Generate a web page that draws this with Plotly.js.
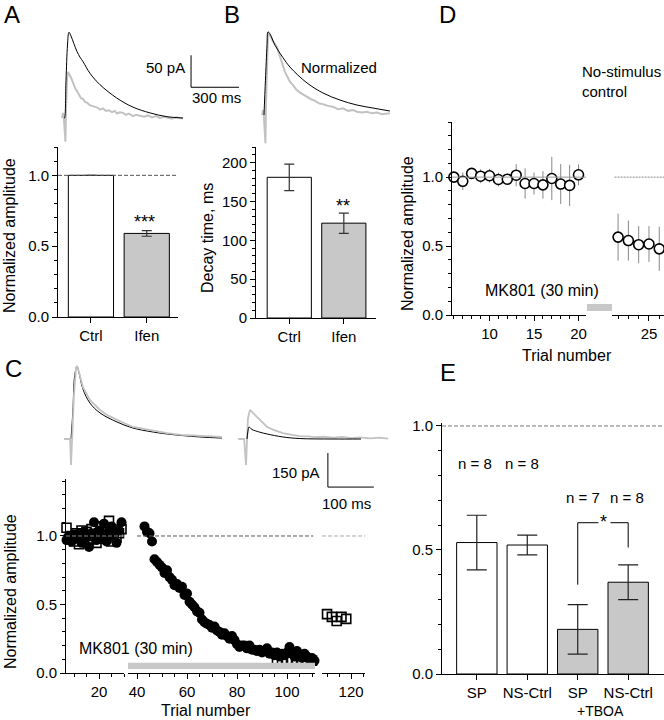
<!DOCTYPE html>
<html><head><meta charset="utf-8">
<script src="https://cdn.plot.ly/plotly-3.0.1.min.js"></script>
<style>html,body{margin:0;padding:0;background:#fff;} #plot{width:664px;height:720px;}</style>
</head><body><div id="plot"></div>
<script>
// ---------- Panel A / B : bar data ----------
const ampCats = ['Ctrl', 'Ifen'];
const ampVals = [1.0, 0.59];
const ampErr = [null, 0.02];
const decayVals = [181, 122];
const decayErr = [17, 13];
const barFill = ['#ffffff', '#c8c8c8'];

// ---------- Panel A traces (ms, pA) ----------
const tA_black = [0, 3, 12.5, 22, 31, 44, 62, 81, 100, 119, 162, 225, 331, 431, 537, 644, 744];
const iA_black = [0, 0, 59, 114, 134, 128, 116, 104, 95, 88, 70, 52, 31, 17, 8, 2, 0];
const tA_gray = [-12, -6, 0, 9, 12.5, 19, 25, 31, 37.5, 44, 56, 69, 81, 94, 106, 119, 131, 144, 162, 175,
  194, 212, 225, 244, 262, 281, 300, 318, 331, 350, 368, 387, 406, 431, 450, 475, 500, 525, 550, 575,
  600, 625, 650, 675, 700, 725, 744];
const iA_gray = [0, 8, -3, -37, 12, 62, 72, 70, 66, 63, 55, 47, 42, 37, 31, 30, 25, 24, 20, 19,
  17, 16, 13, 15, 11, 12, 9, 11, 7, 9, 8, 5, 7, 3, 5, 4, 2, 4, 1, 3,
  0, 2, 1, -1, 1, 0, -1];

// ---------- Panel B traces (ms, normalized) ----------
const tB_black = [0, 9, 19, 25, 37.5, 69, 119, 162, 269, 369, 475, 581, 681, 787];
const nB_black = [0, 0.42, 0.84, 1.0, 0.976, 0.84, 0.69, 0.578, 0.386, 0.265, 0.18, 0.12, 0.084, 0.048];
const tB_gray = [-12, -6, 0, 9, 12.5, 19, 25, 31, 37.5, 44, 56, 69, 81, 94, 106, 119, 131, 144, 162, 181,
  200, 225, 250, 269, 294, 319, 344, 369, 400, 431, 462, 494, 525, 556, 581, 612, 644, 675, 706, 737, 768, 787];
const nB_gray = [0, 0.06, -0.04, -0.34, 0.12, 0.84, 1.0, 0.98, 0.95, 0.93, 0.89, 0.86, 0.82, 0.74, 0.66, 0.58, 0.52, 0.47, 0.40, 0.36,
  0.31, 0.27, 0.24, 0.21, 0.19, 0.17, 0.14, 0.13, 0.11, 0.10, 0.07, 0.08, 0.05, 0.06, 0.04, 0.03, 0.04, 0.02, 0.03, 0.01, 0.02, 0.02];

// ---------- Panel C traces (ms, pA) ----------
const tC1_gray = [-15, -2, 0, 2.2, 6.5, 10.9, 13, 17.4, 26, 41, 63, 80, 100, 120, 135, 155, 172, 190, 209, 240, 280, 305, 328];
const iC1_gray = [0, 0, -115, -4, 194, 313, 322, 295, 229, 172, 128, 104, 84, 66, 53, 46, 40, 31, 26, 18, 13, 10, 9];
const tC1_black = [0, 4, 8, 13, 17.4, 26, 41, 63, 100, 135, 172, 209, 280, 328];
const iC1_black = [0, 120, 280, 322, 292, 220, 159, 115, 75, 48, 33, 22, 9, 4];
const tC2_gray = [-17, -4, 0, 2.2, 4.3, 8.7, 15, 22, 30, 39, 46, 60, 80, 100, 117, 135, 150, 170, 189, 210, 230, 248, 270, 290, 309];
const iC2_gray = [0, 0, -115, 0, 93, 128, 115, 100, 84, 66, 53, 40, 26, 18, 13, 12, 8, 10, 6, 9, 4, 7, 3, 6, 2];
const tC2_black = [2.2, 4.3, 6.5, 13, 30, 46, 80, 117, 189, 250];
const iC2_black = [0, 35, 53, 42, 30, 22, 9, 2, 0, 0];

// ---------- Panel C time course ----------
const cTrials1 = [7, 8, 9, 10, 11, 12, 13, 14, 15, 16, 17, 18, 19, 20, 21, 22, 23, 24, 25, 26, 27, 28, 29];
const cCirc1 = [0.97, 0.99, 0.96, 1.01, 0.98, 1.02, 0.95, 1.03, 0.99, 0.92, 1.02, 1.10, 0.97, 1.04, 0.99, 1.09, 0.96, 1.03, 1.07, 1.00, 0.95, 1.04, 1.10];
const cSq1 = [1.06, 0.98, 1.00, 0.96, 1.02, 0.94, 1.04, 0.99, 1.03, 0.97, 1.05, 1.00, 0.95, 1.02, 1.07, 0.98, 1.01, 1.11, 0.96, 1.03, 0.99, 1.02, 1.05];
const cTrials2 = [43, 44, 45, 46, 47, 48, 49, 50, 51, 52, 53, 54, 55, 56, 57, 58, 59, 60, 61, 62, 63, 64, 65, 66, 67, 68, 69, 70,
  71, 72, 73, 74, 75, 76, 77, 78, 79, 80, 81, 82, 83, 84, 85, 86, 87, 88, 89, 90, 91, 92, 93, 94, 95, 96, 97, 98, 99, 100,
  101, 102, 103, 104, 105, 106, 107, 108, 109, 110, 111];
const cCirc2 = [1.07, 1.03, 1.02, 0.96, 0.83, 0.81, 0.79, 0.77, 0.73, 0.75, 0.70, 0.68, 0.64, 0.65, 0.62, 0.63, 0.57, 0.58, 0.52, 0.50, 0.48, 0.45, 0.44, 0.39, 0.37, 0.36, 0.35, 0.33,
  0.34, 0.31, 0.30, 0.28, 0.29, 0.27, 0.25, 0.27, 0.24, 0.21, 0.19, 0.20, 0.20, 0.18, 0.20, 0.17, 0.17, 0.16, 0.17, 0.15, 0.16, 0.18, 0.14, 0.15, 0.13, 0.15, 0.12, 0.14, 0.13, 0.15,
  0.19, 0.14, 0.12, 0.16, 0.13, 0.11, 0.14, 0.12, 0.10, 0.11, 0.09];
const cSqTrials2 = [96, 98, 100, 102, 104, 106, 108, 110];
const cSq2 = [0.09, 0.08, 0.10, 0.09, 0.08, 0.09, 0.08, 0.09];
const cSqTrials3 = [110, 112, 114, 116, 118];
const cSq3 = [0.43, 0.41, 0.38, 0.41, 0.395];

// ---------- Panel D ----------
const dTrials1 = [6, 7, 8, 9, 10, 11, 12, 13, 14, 15, 16, 17, 18, 19, 20];
const dAmp1 = [1.00, 0.97, 1.027, 1.007, 1.01, 0.983, 0.985, 1.014, 0.954, 0.954, 0.944, 0.99, 0.95, 0.94, 1.017];
const dErr1 = [0.04, 0.064, 0.04, 0.05, 0.05, 0.05, 0.04, 0.08, 0.11, 0.08, 0.10, 0.157, 0.145, 0.15, 0.076];
const dTrials2 = [22, 23, 24, 25, 26];
const dAmp2 = [0.565, 0.54, 0.51, 0.515, 0.48];
const dErr2 = [0.17, 0.145, 0.135, 0.13, 0.16];

// ---------- Panel E ----------
const eCats = ['SP', 'NS-Ctrl', 'SP', 'NS-Ctrl'];
const eVals = [0.53, 0.52, 0.18, 0.37];
const eErr = [0.11, 0.04, 0.10, 0.07];
const eFill = ['#ffffff', '#ffffff', '#c8c8c8', '#c8c8c8'];
const eN = ['n = 8', 'n = 8', 'n = 7', 'n = 8'];

// ---------- helpers ----------
const F = 'Liberation Sans, Arial, Helvetica, sans-serif';
const W = 664, H = 720;
const X = px => px / W;
const Y = py => 1 - py / H;
const idx = a => a.map((_, i) => i);
function axisStyle(o) {
  return Object.assign({
    showline: true, linecolor: '#000', linewidth: 1,
    ticks: 'outside', ticklen: 5, tickwidth: 1, tickcolor: '#000',
    showgrid: false, zeroline: false, fixedrange: true,
    tickfont: {family: F, size: 15, color: '#000'}
  }, o);
}
const hidden = o => Object.assign({visible: false, fixedrange: true, showgrid: false, zeroline: false}, o);
const minor = d => ({dtick: d, ticks: 'outside', ticklen: 3, tickwidth: 1, tickcolor: '#000', showgrid: false});

const grayTrace = '#c2c2c2';
const traces = [
  // A bars
  {type: 'bar', x: idx(ampCats), y: ampVals, xaxis: 'x', yaxis: 'y', width: 0.81,
   marker: {color: barFill, line: {color: '#000', width: 1}},
   error_y: {type: 'data', array: ampErr, visible: true, color: '#333', thickness: 1.2, width: 5}},
  // B bars
  {type: 'bar', x: idx(ampCats), y: decayVals, xaxis: 'x2', yaxis: 'y2', width: 0.81,
   marker: {color: barFill, line: {color: '#000', width: 1}},
   error_y: {type: 'data', array: decayErr, visible: true, color: '#333', thickness: 1.2, width: 5}},
  // A traces
  {type: 'scatter', mode: 'lines', x: tA_gray, y: iA_gray, xaxis: 'x3', yaxis: 'y3', line: {color: grayTrace, width: 2}},
  {type: 'scatter', mode: 'lines', x: tA_black, y: iA_black, xaxis: 'x3', yaxis: 'y3', line: {color: '#000', width: 1, shape: 'spline'}},
  // B traces
  {type: 'scatter', mode: 'lines', x: tB_gray, y: nB_gray, xaxis: 'x4', yaxis: 'y4', line: {color: grayTrace, width: 2}},
  {type: 'scatter', mode: 'lines', x: tB_black, y: nB_black, xaxis: 'x4', yaxis: 'y4', line: {color: '#000', width: 1, shape: 'spline'}},
  // C traces
  {type: 'scatter', mode: 'lines', x: tC1_black, y: iC1_black, xaxis: 'x5', yaxis: 'y5', line: {color: '#000', width: 1, shape: 'spline'}},
  {type: 'scatter', mode: 'lines', x: tC1_gray, y: iC1_gray, xaxis: 'x5', yaxis: 'y5', line: {color: grayTrace, width: 1.8}},
  {type: 'scatter', mode: 'lines', x: tC2_gray, y: iC2_gray, xaxis: 'x6', yaxis: 'y5', line: {color: grayTrace, width: 1.8}},
  {type: 'scatter', mode: 'lines', x: tC2_black, y: iC2_black, xaxis: 'x6', yaxis: 'y5', line: {color: '#000', width: 1, shape: 'spline'}},
  // C time course
  {type: 'scatter', mode: 'markers', x: cTrials1, y: cCirc1, xaxis: 'x7', yaxis: 'y7', cliponaxis: false,
   marker: {symbol: 'circle', size: 10, color: '#000'}},
  {type: 'scatter', mode: 'markers', x: cTrials1, y: cSq1, xaxis: 'x7', yaxis: 'y7', cliponaxis: false,
   marker: {symbol: 'square-open', size: 9, color: '#000', line: {width: 1.6}}},
  {type: 'scatter', mode: 'markers', x: cSqTrials2, y: cSq2, xaxis: 'x8', yaxis: 'y7', cliponaxis: false,
   marker: {symbol: 'square-open', size: 9, color: '#000', line: {width: 1.6}}},
  {type: 'scatter', mode: 'markers', x: cTrials2, y: cCirc2, xaxis: 'x8', yaxis: 'y7', cliponaxis: false,
   marker: {symbol: 'circle', size: 10, color: '#000'}},
  {type: 'scatter', mode: 'markers', x: cSqTrials3, y: cSq3, xaxis: 'x9', yaxis: 'y7', cliponaxis: false,
   marker: {symbol: 'square-open', size: 9, color: '#000', line: {width: 1.6}}},
  // D
  {type: 'scatter', mode: 'markers', x: dTrials1, y: dAmp1, xaxis: 'x10', yaxis: 'y10', cliponaxis: false,
   error_y: {type: 'data', array: dErr1, visible: true, color: '#888', thickness: 1, width: 0},
   marker: {symbol: 'circle', size: 10, color: '#fff', line: {color: '#000', width: 1.6}}},
  {type: 'scatter', mode: 'markers', x: dTrials2, y: dAmp2, xaxis: 'x11', yaxis: 'y10', cliponaxis: false,
   error_y: {type: 'data', array: dErr2, visible: true, color: '#888', thickness: 1, width: 0},
   marker: {symbol: 'circle', size: 10, color: '#fff', line: {color: '#000', width: 1.6}}},
  // E
  {type: 'bar', x: idx(eCats), y: eVals, xaxis: 'x12', yaxis: 'y12', width: 0.8,
   marker: {color: eFill, line: {color: '#000', width: 1}},
   error_y: {type: 'data', array: eErr, visible: true, color: '#222', thickness: 1.2, width: 10}}
];

// scale bars (in trace data units)
const sbA = {t: 794, i: 48, ms: 300, pA: 50};
const sbC = {t: 178, i: -212, ms: 100, pA: 150};

const dash1 = {color: '#555', width: 1, dash: '4px,2px'};
const shapes = [
  {type: 'line', xref: 'x domain', yref: 'y', x0: 0, x1: 1, y0: 1, y1: 1, line: dash1},
  {type: 'line', xref: 'x7 domain', yref: 'y7', x0: 0, x1: 1, y0: 1, y1: 1, line: {color: '#888', width: 1, dash: '4px,2px'}},
  {type: 'line', xref: 'x8', yref: 'y7', x0: 40, x1: 110.5, y0: 1, y1: 1, line: dash1},
  {type: 'line', xref: 'x9 domain', yref: 'y7', x0: 0, x1: 1, y0: 1, y1: 1, line: {color: '#aaa', width: 1, dash: '4px,2px'}},
  {type: 'line', xref: 'x10 domain', yref: 'y10', x0: 0, x1: 1, y0: 1, y1: 1, line: {color: '#999', width: 1}},
  {type: 'line', xref: 'x11 domain', yref: 'y10', x0: 0.05, x1: 1, y0: 1, y1: 1, line: {color: '#888', width: 1, dash: '2px,1px'}},
  {type: 'line', xref: 'x12 domain', yref: 'y12', x0: 0, x1: 1, y0: 1, y1: 1, line: {color: '#777', width: 1, dash: '4px,2px'}},
  // MK801 bars
  {type: 'rect', xref: 'x8 domain', yref: 'y7', x0: 0, x1: 1, y0: 0.03, y1: 0.075, fillcolor: '#c8c8c8', line: {width: 0}},
  {type: 'rect', xref: 'paper', yref: 'paper', x0: X(587), x1: X(612), y0: Y(311), y1: Y(304), fillcolor: '#c8c8c8', line: {width: 0}},
  // scale bar A
  {type: 'line', xref: 'x3', yref: 'y3', x0: sbA.t, x1: sbA.t, y0: sbA.i, y1: sbA.i + sbA.pA, line: {color: '#000', width: 1}},
  {type: 'line', xref: 'x3', yref: 'y3', x0: sbA.t, x1: sbA.t + sbA.ms, y0: sbA.i, y1: sbA.i, line: {color: '#000', width: 1}},
  // scale bar C
  {type: 'line', xref: 'x6', yref: 'y5', x0: sbC.t, x1: sbC.t, y0: sbC.i, y1: sbC.i + sbC.pA, line: {color: '#000', width: 1}},
  {type: 'line', xref: 'x6', yref: 'y5', x0: sbC.t, x1: sbC.t + sbC.ms, y0: sbC.i, y1: sbC.i, line: {color: '#000', width: 1}},
  // significance bracket E
  {type: 'line', xref: 'x12', yref: 'y12', x0: 2, x1: 2, y0: 0.36, y1: 0.61, line: {color: '#000', width: 1}},
  {type: 'line', xref: 'x12', yref: 'y12', x0: 2, x1: 2.41, y0: 0.61, y1: 0.61, line: {color: '#000', width: 1}},
  {type: 'line', xref: 'x12', yref: 'y12', x0: 2.65, x1: 3, y0: 0.61, y1: 0.61, line: {color: '#000', width: 1}},
  {type: 'line', xref: 'x12', yref: 'y12', x0: 3, x1: 3, y0: 0.61, y1: 0.51, line: {color: '#000', width: 1}}
];

function ann(text, px, py, o) {
  return Object.assign({text: text, xref: 'paper', yref: 'paper', x: X(px), y: Y(py), showarrow: false,
    xanchor: 'center', yanchor: 'middle', font: {family: F, size: 15, color: '#000'}}, o || {});
}
const big = {font: {family: F, size: 24, color: '#000'}, yanchor: 'top', borderpad: 0};
const big2 = {font: {family: F, size: 24, color: '#000'}};
const t16 = {font: {family: F, size: 16, color: '#000'}};
const star = {font: {family: F, size: 18, color: '#000'}};
const annotations = [
  ann('A', 12, 0, big), ann('B', 232, 0, big), ann('D', 448, 0, big),
  ann('C', 13, 368, big2), ann('E', 448, 372, big2),
  ann('Normalized amplitude', 10, 236, Object.assign({textangle: -90}, t16)),
  ann('Decay time, ms', 208, 238, Object.assign({textangle: -90}, t16)),
  ann('Normalized amplitude', 10, 592, Object.assign({textangle: -90}, t16)),
  ann('Normalized amplitude', 408, 234, Object.assign({textangle: -90}, t16)),
  ann('Trial number', 206, 710, t16),
  ann('Trial number', 567, 355, t16),
  ann('50 pA', 187, 67, {xanchor: 'right'}),
  ann('300 ms', 216, 98),
  ann('Normalized', 339, 67),
  ann('No-stimulus<br>control', 580, 81, {xanchor: 'left', align: 'left'}),
  ann('150 pA', 322, 472, {xanchor: 'right'}),
  ann('100 ms', 347, 503),
  ann('MK801 (30 min)', 136, 648, t16),
  ann('MK801 (30 min)', 542, 290, t16),
  ann('+TBOA', 600, 720, {yanchor: 'bottom', borderpad: 0, font: {family: F, size: 14, color: '#000'}}),
  ann('***', 144.5, 222, star),
  ann('**', 343, 206, star),
  ann('*', 603, 522, star),
  ann(eN[0], 475, 463), ann(eN[1], 522, 463), ann(eN[2], 583, 497), ann(eN[3], 627, 497)
];

const layout = {
  width: W, height: H, margin: {l: 0, r: 0, t: 0, b: 0, pad: 0},
  paper_bgcolor: '#fff', plot_bgcolor: 'rgba(0,0,0,0)', showlegend: false,
  font: {family: F, size: 15, color: '#000'},
  xaxis: axisStyle({domain: [X(58), X(178)], range: [-0.59, 1.56], anchor: 'y', tickmode: 'array', tickvals: idx(ampCats), ticktext: ampCats}),
  yaxis: axisStyle({domain: [Y(317), Y(147)], range: [0, 1.2], anchor: 'x', dtick: 0.5, tick0: 0, tickformat: '.1f', minor: minor(0.1)}),
  xaxis2: axisStyle({domain: [X(256), X(376)], range: [-0.61, 1.59], anchor: 'y2', tickmode: 'array', tickvals: idx(ampCats), ticktext: ampCats}),
  yaxis2: axisStyle({domain: [Y(318), Y(147)], range: [0, 220], anchor: 'x2', dtick: 50, tick0: 0, minor: minor(10)}),
  xaxis3: hidden({domain: [X(55), X(245)], range: [(55 - 64) * 6.25, (245 - 64) * 6.25], anchor: 'y3'}),
  yaxis3: hidden({domain: [Y(150), Y(20)], range: [(118 - 150) * 1.5625, (118 - 20) * 1.5625], anchor: 'x3'}),
  xaxis4: hidden({domain: [X(255), X(392)], range: [(255 - 264) * 6.25, (392 - 264) * 6.25], anchor: 'y4'}),
  yaxis4: hidden({domain: [Y(150), Y(20)], range: [(115 - 150) / 83, (115 - 20) / 83], anchor: 'x4'}),
  xaxis5: hidden({domain: [X(60), X(230)], range: [(60 - 71) * 2.174, (230 - 71) * 2.174], anchor: 'y5'}),
  xaxis6: hidden({domain: [X(234), X(392)], range: [(234 - 246) * 2.174, (392 - 246) * 2.174], anchor: 'y5'}),
  yaxis5: hidden({domain: [Y(492), Y(350)], range: [(439 - 492) * 4.41, (439 - 350) * 4.41], anchor: 'x5'}),
  xaxis7: axisStyle({domain: [X(66), X(124)], range: [6.8, 30], anchor: 'y7', dtick: 20, tick0: 0, minor: minor(5)}),
  xaxis8: axisStyle({domain: [X(128), X(315)], range: [36.4, 111.2], anchor: 'y7', dtick: 20, tick0: 0, minor: minor(5)}),
  xaxis9: axisStyle({domain: [X(322), X(365)], range: [107.9, 125.8], anchor: 'y7', dtick: 20, tick0: 0, minor: minor(5)}),
  yaxis7: axisStyle({domain: [Y(673), Y(479)], range: [0, 1.416], anchor: 'x7', dtick: 0.5, tick0: 0, tickformat: '.1f', minor: minor(0.1)}),
  xaxis10: axisStyle({domain: [X(452), X(586)], range: [5.79, 20.84], anchor: 'y10', dtick: 5, tick0: 0, minor: minor(1)}),
  xaxis11: axisStyle({domain: [X(612), X(664)], range: [21.41, 26.46], anchor: 'y10', dtick: 5, tick0: 0, minor: minor(1)}),
  yaxis10: axisStyle({domain: [Y(315), Y(122)], range: [0, 1.4], anchor: 'x10', dtick: 0.5, tick0: 0, tickformat: '.1f', minor: minor(0.1)}),
  xaxis12: axisStyle({domain: [X(442), X(664)], range: [-0.69, 3.71], anchor: 'y12', tickmode: 'array', tickvals: idx(eCats), ticktext: eCats, ticklabelstandoff: 0}),
  yaxis12: axisStyle({domain: [Y(674), Y(423)], range: [0, 1.012], anchor: 'x12', dtick: 0.5, tick0: 0, tickformat: '.1f', minor: minor(0.1)}),
  shapes: shapes,
  annotations: annotations
};

Plotly.newPlot('plot', traces, layout, {staticPlot: true, displayModeBar: false});
</script>
</body></html>
